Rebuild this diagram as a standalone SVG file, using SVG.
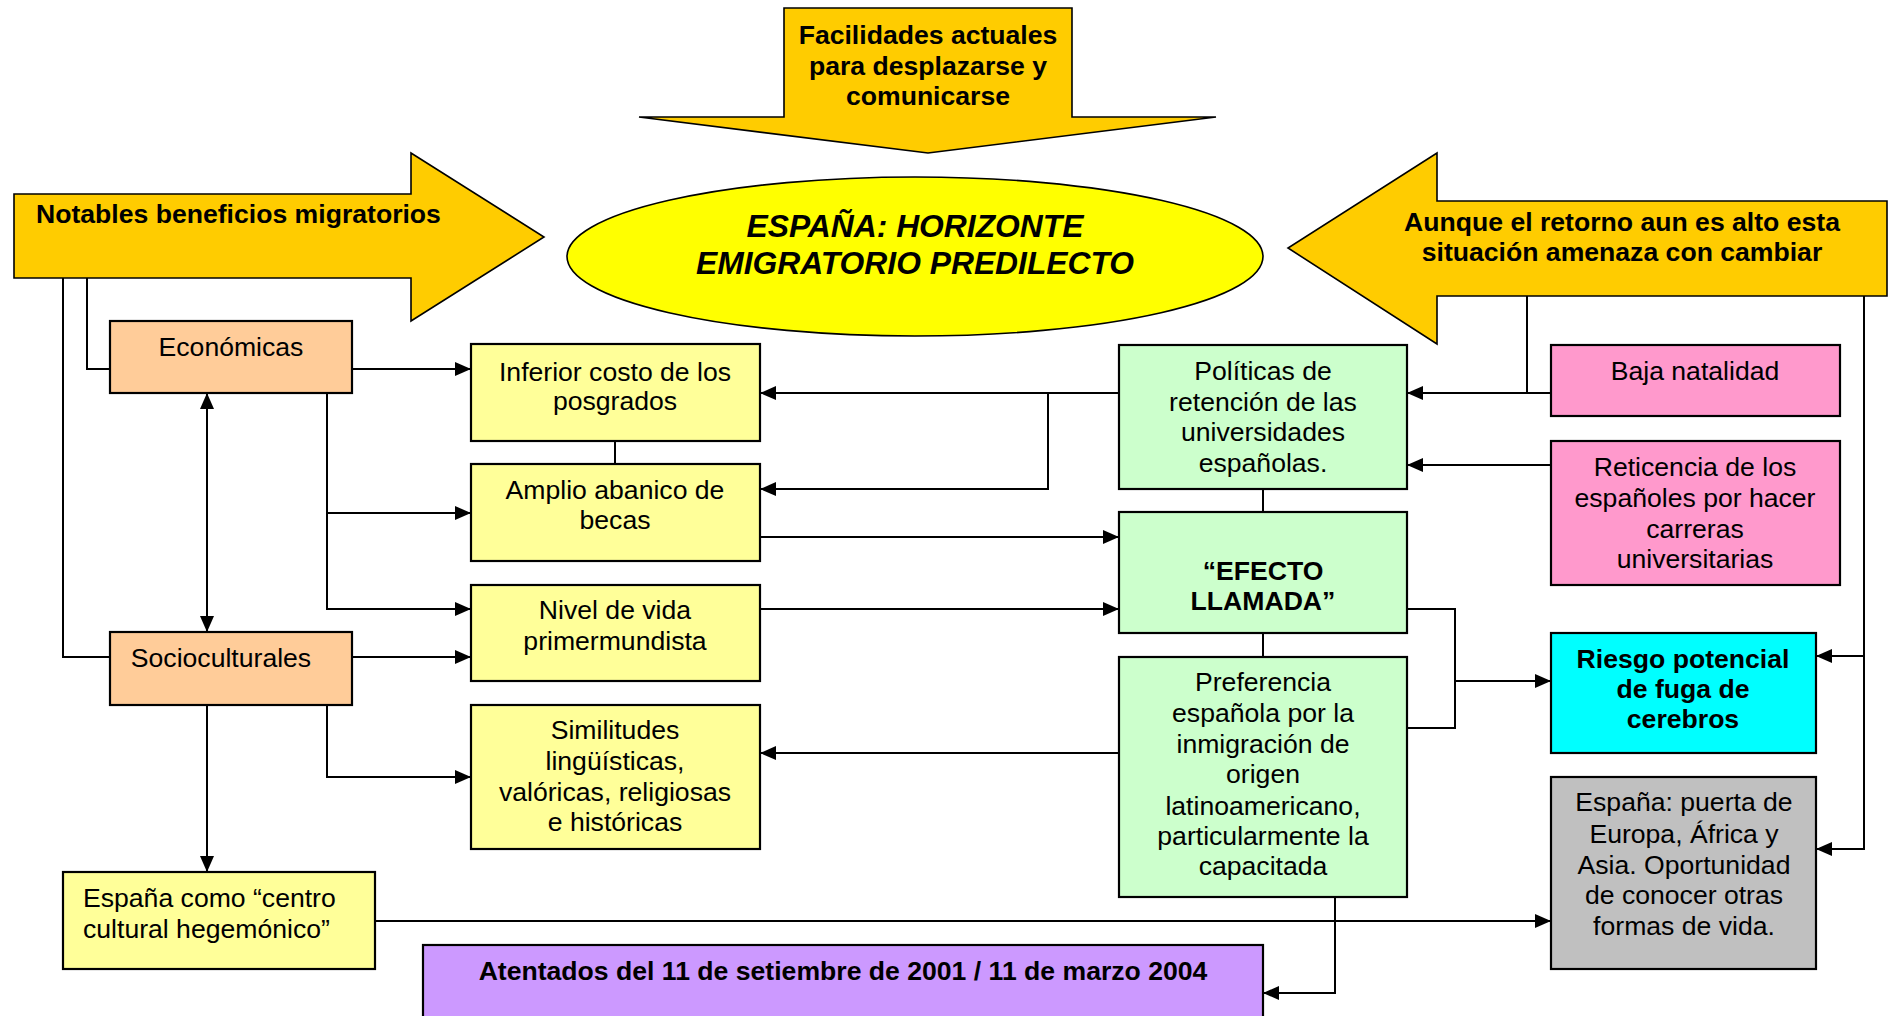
<svg xmlns="http://www.w3.org/2000/svg" width="1888" height="1016" viewBox="0 0 1888 1016">
<style>
text{font-family:"Liberation Sans",Arial,sans-serif;font-size:26.6px;fill:#000}
.c{text-anchor:middle}
.b{font-weight:bold}
.box{stroke:#000;stroke-width:2.2}
.big{fill:#FFCC00;stroke:#000;stroke-width:1.6}
.con{fill:none;stroke:#000;stroke-width:2}
.arr{marker-end:url(#ah)}
</style>
<defs>
<marker id="ah" markerUnits="userSpaceOnUse" markerWidth="17" markerHeight="14" refX="16" refY="7" orient="auto-start-reverse" viewBox="0 0 17 14">
<path d="M0,0 L16,7 L0,14 z" fill="#000"/>
</marker>
</defs>

<rect width="1888" height="1016" fill="#fff"/>

<g id="n-facilidades">
<path class="big" d="M784,8 H1072 V117 H1216 L928,153 L639,117 H784 Z"/>
<text class="c b" x="928" y="44">Facilidades actuales</text>
<text class="c b" x="928" y="75">para desplazarse y</text>
<text class="c b" x="928" y="105">comunicarse</text>
</g>

<g id="n-notables">
<path class="big" d="M14,194 H411 V153 L544,237 L411,321 V278 H14 Z"/>
<text class="b" x="36" y="223">Notables beneficios migratorios</text>
</g>

<g id="n-aunque">
<path class="big" d="M1887,201 H1437 V153 L1288,248 L1437,344 V296 H1887 Z"/>
<text class="c b" x="1622" y="231">Aunque el retorno aun es alto esta</text>
<text class="c b" x="1622" y="261">situación amenaza con cambiar</text>
</g>

<g id="n-espana">
<ellipse cx="915" cy="256.5" rx="348" ry="79.5" fill="#FFFF00" stroke="#000" stroke-width="1.6"/>
<text class="c b" x="915" y="237" style="font-style:italic;font-size:31.8px">ESPAÑA: HORIZONTE</text>
<text class="c b" x="915" y="274" style="font-style:italic;font-size:31.8px">EMIGRATORIO PREDILECTO</text>
</g>

<g id="connectors">
<path class="con" d="M87,278 V369 H110"/>
<path class="con" d="M63,278 V657 H110"/>
<path class="con arr" d="M352,369 H471"/>
<path class="con arr" d="M327,393 V609 H471"/>
<path class="con arr" d="M327,513 H471"/>
<path class="con arr" d="M207,393 V632" style="marker-start:url(#ah)"/>
<path class="con arr" d="M352,657 H471"/>
<path class="con arr" d="M327,705 V777 H471"/>
<path class="con arr" d="M207,705 V872"/>
<path class="con arr" d="M375,921 H1551"/>
<path class="con" d="M615,441 V464"/>
<path class="con arr" d="M1119,393 H760"/>
<path class="con arr" d="M1048,393 V489 H760"/>
<path class="con arr" d="M760,537 H1119"/>
<path class="con arr" d="M760,609 H1119"/>
<path class="con" d="M1263,489 V512"/>
<path class="con" d="M1263,633 V657"/>
<path class="con arr" d="M1119,753 H760"/>
<path class="con" d="M1407,609 H1455 V728 H1407"/>
<path class="con arr" d="M1455,681 H1551"/>
<path class="con" d="M1527,296 V393"/>
<path class="con arr" d="M1551,393 H1407"/>
<path class="con arr" d="M1551,465 H1407"/>
<path class="con arr" d="M1864,296 V849 H1816"/>
<path class="con arr" d="M1864,656 H1816"/>
<path class="con arr" d="M1335,897 V993 H1263"/>
</g>

<g id="n-economicas">
<rect class="box" x="110" y="321" width="242" height="72" fill="#FFCC99"/>
<text class="c" x="231" y="356">Económicas</text>
</g>

<g id="n-socioculturales">
<rect class="box" x="110" y="632" width="242" height="73" fill="#FFCC99"/>
<text class="c" x="221" y="667">Socioculturales</text>
</g>

<g id="n-inferior">
<rect class="box" x="471" y="344" width="289" height="97" fill="#FFFF99"/>
<text class="c" x="615" y="381">Inferior costo de los</text>
<text class="c" x="615" y="410">posgrados</text>
</g>

<g id="n-amplio">
<rect class="box" x="471" y="464" width="289" height="97" fill="#FFFF99"/>
<text class="c" x="615" y="499">Amplio abanico de</text>
<text class="c" x="615" y="529">becas</text>
</g>

<g id="n-nivel">
<rect class="box" x="471" y="585" width="289" height="96" fill="#FFFF99"/>
<text class="c" x="615" y="619">Nivel de vida</text>
<text class="c" x="615" y="650">primermundista</text>
</g>

<g id="n-similitudes">
<rect class="box" x="471" y="705" width="289" height="144" fill="#FFFF99"/>
<text class="c" x="615" y="739">Similitudes</text>
<text class="c" x="615" y="770">lingüísticas,</text>
<text class="c" x="615" y="801">valóricas, religiosas</text>
<text class="c" x="615" y="831">e históricas</text>
</g>

<g id="n-centro">
<rect class="box" x="63" y="872" width="312" height="97" fill="#FFFF99"/>
<text x="83" y="907">España como “centro</text>
<text x="83" y="938">cultural hegemónico”</text>
</g>

<g id="n-atentados">
<rect class="box" x="423" y="945" width="840" height="90" fill="#CC99FF"/>
<text class="c b" x="843" y="980">Atentados del 11 de setiembre de 2001 / 11 de marzo 2004</text>
</g>

<g id="n-politicas">
<rect class="box" x="1119" y="345" width="288" height="144" fill="#CCFFCC"/>
<text class="c" x="1263" y="380">Políticas de</text>
<text class="c" x="1263" y="411">retención de las</text>
<text class="c" x="1263" y="441">universidades</text>
<text class="c" x="1263" y="472">españolas.</text>
</g>

<g id="n-efecto">
<rect class="box" x="1119" y="512" width="288" height="121" fill="#CCFFCC"/>
<text class="c b" x="1263" y="580">“EFECTO</text>
<text class="c b" x="1263" y="610">LLAMADA”</text>
</g>

<g id="n-preferencia">
<rect class="box" x="1119" y="657" width="288" height="240" fill="#CCFFCC"/>
<text class="c" x="1263" y="691">Preferencia</text>
<text class="c" x="1263" y="722">española por la</text>
<text class="c" x="1263" y="753">inmigración de</text>
<text class="c" x="1263" y="783">origen</text>
<text class="c" x="1263" y="815">latinoamericano,</text>
<text class="c" x="1263" y="845">particularmente la</text>
<text class="c" x="1263" y="875">capacitada</text>
</g>

<g id="n-baja">
<rect class="box" x="1551" y="345" width="289" height="71" fill="#FF99CC"/>
<text class="c" x="1695" y="380">Baja natalidad</text>
</g>

<g id="n-reticencia">
<rect class="box" x="1551" y="441" width="289" height="144" fill="#FF99CC"/>
<text class="c" x="1695" y="476">Reticencia de los</text>
<text class="c" x="1695" y="507">españoles por hacer</text>
<text class="c" x="1695" y="538">carreras</text>
<text class="c" x="1695" y="568">universitarias</text>
</g>

<g id="n-riesgo">
<rect class="box" x="1551" y="633" width="265" height="120" fill="#00FFFF"/>
<text class="c b" x="1683" y="668">Riesgo potencial</text>
<text class="c b" x="1683" y="698">de fuga de</text>
<text class="c b" x="1683" y="728">cerebros</text>
</g>

<g id="n-puerta">
<rect class="box" x="1551" y="777" width="265" height="192" fill="#C0C0C0"/>
<text class="c" x="1684" y="811">España: puerta de</text>
<text class="c" x="1684" y="843">Europa, África y</text>
<text class="c" x="1684" y="874">Asia. Oportunidad</text>
<text class="c" x="1684" y="904">de conocer otras</text>
<text class="c" x="1684" y="935">formas de vida.</text>
</g>
</svg>
